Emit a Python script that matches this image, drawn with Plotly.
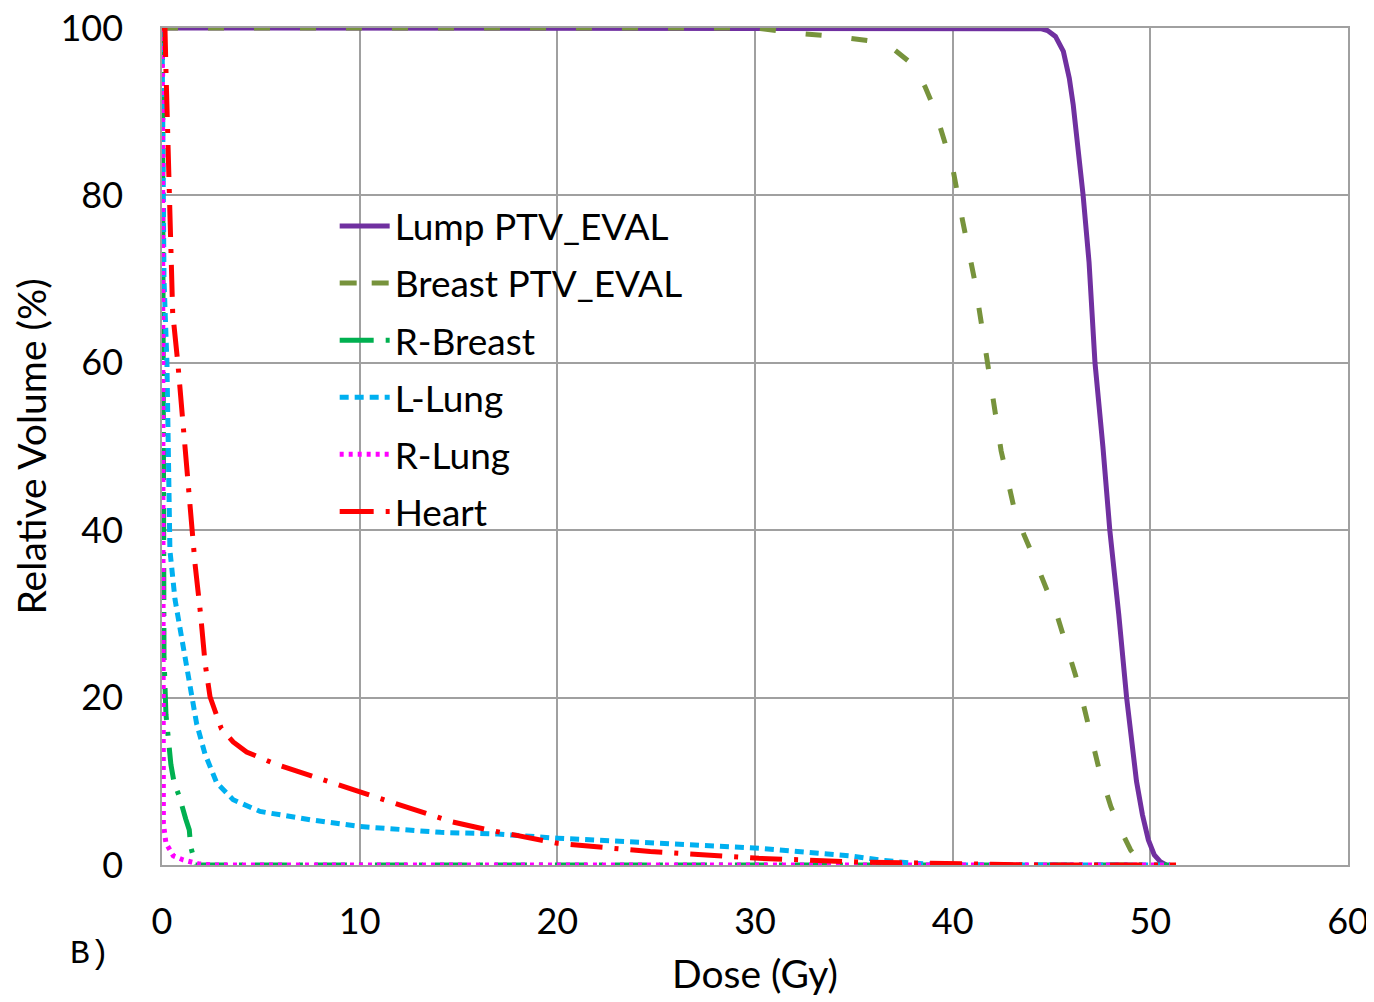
import plotly.graph_objects as go

# Dose-volume histogram, values
lump_dose = [0, 44.0, 44.5, 44.8, 45.2, 45.6, 45.9, 46.1, 46.4, 46.6, 46.9, 47.05, 47.2, 47.6,
             47.95, 48.4, 48.8, 49.3, 49.6, 49.9, 50.2, 50.5, 50.8]
lump_vol = [100, 100, 99.9, 99.7, 99.0, 97.2, 94.0, 90.8, 85.0, 80.0, 72.0, 67.0, 60.0, 50.0,
            40.0, 30.0, 20.0, 10.0, 6.0, 3.0, 1.2, 0.4, 0]

breast_dose = [0, 30.0, 32.5, 34.0, 36.0, 37.0, 38.0, 38.6, 39.1, 39.6, 40.0, 40.5, 41.1,
               41.6, 42.0, 42.45, 43.1, 43.6, 44.2, 45.3, 46.2, 46.6, 47.4, 48.0, 48.5,
               49.0, 49.5, 50.0]
breast_vol = [100, 100, 99.3, 99.0, 98.4, 97.5, 95.6, 93.0, 90.2, 86.5, 83.3, 77.0, 70.0,
              62.5, 56.5, 49.5, 42.7, 39.5, 36.2, 29.7, 22.8, 19.3, 11.5, 7.0, 4.2,
              1.8, 0.3, 0]

rbreast_dose = [0, 0.03, 0.05, 0.07, 0.1, 0.2, 0.35, 0.45, 0.6, 0.9, 1.2, 1.38, 1.45, 1.6,
                1.7, 51.0]
rbreast_vol = [100, 95, 70, 40, 25, 18, 14, 12, 10, 8, 5.5, 4.2, 2.2, 0.5, 0, 0]

llung_dose = [0, 0.05, 0.1, 0.25, 0.4, 0.66, 1.08, 1.42, 1.75, 2.17, 2.77, 3.6, 4.96, 7.5,
              10.0, 14.1, 17.0, 20.0, 25.0, 30.2, 34.8, 36.3, 38.0, 40.0, 51.0]
llung_vol = [100, 90, 70, 60, 37.6, 31.7, 25.7, 20.9, 16.9, 13.3, 9.8, 7.8, 6.4, 5.4,
             4.6, 3.9, 3.7, 3.2, 2.6, 2.0, 1.1, 0.6, 0.2, 0, 0]

rlung_dose = [0, 0.03, 0.05, 0.07, 0.2, 0.57, 1.08, 1.83, 2.5, 51.0]
rlung_vol = [100, 90, 40, 5, 2.6, 1.1, 0.6, 0.15, 0, 0]

heart_dose = [0, 0.15, 0.2, 0.3, 0.34, 0.45, 0.54, 0.8, 1.16, 1.5, 1.67, 1.95, 2.18, 2.43,
              3.0, 3.6, 4.28, 5.8, 8.16, 10.0, 12.3, 14.6, 16.5, 18.0, 20.0, 24.7, 30.2,
              35.3, 42.0, 44.0, 51.3]
heart_vol = [100, 100, 95, 85, 80, 72, 66, 60, 50, 40, 36, 30, 24.1, 20.1,
             16.3, 14.7, 13.5, 12.0, 10.2, 8.8, 7.0, 5.2, 4.2, 3.5, 2.6, 1.6, 0.8,
             0.35, 0.05, 0, 0]

# name, x, y, colour, dash in plot, dash in legend sample
series = [
    ("Lump PTV_EVAL", lump_dose, lump_vol, "#7030A0", "solid", "solid"),
    ("Breast PTV_EVAL", breast_dose, breast_vol, "#77933C", "16px,30px", "17px,15px"),
    ("R-Breast", rbreast_dose, rbreast_vol, "#00B050", "32px,12px,4px,12px", "34px,12px,4px,12px"),
    ("L-Lung", llung_dose, llung_vol, "#00B0F0", "9px,6px", "9px,6px"),
    ("R-Lung", rlung_dose, rlung_vol, "#FF00FF", "4px,5px", "4px,5px"),
    ("Heart", heart_dose, heart_vol, "#FF0000", "32px,12px,4px,12px", "34px,12px,4px,12px"),
]

fig = go.Figure()
for i, (name, xs, ys, color, dash, leg_dash) in enumerate(series):
    fig.add_trace(go.Scatter(
        x=xs, y=ys, mode="lines", name=name, showlegend=False,
        line=dict(color=color, dash=dash, width=5),
    ))
    # legend-only entry so the sample shows the short dash pattern
    fig.add_trace(go.Scatter(
        x=[None], y=[None], mode="lines", name=name,
        legendgroup=f"g{i}",
        line=dict(color=color, dash=leg_dash, width=5),
    ))

grid = "#A0A0A0"
fig.update_layout(
    width=1366, height=994,
    margin=dict(l=154, r=26, t=20, b=137),
    paper_bgcolor="white", plot_bgcolor="white",
    font=dict(family="Lato, sans-serif", size=36, color="black"),
    showlegend=True,
    legend=dict(
        x=0.1456, y=0.80, xanchor="left", yanchor="top",
        bgcolor="rgba(0,0,0,0)", tracegroupgap=6,
        font=dict(size=37), itemwidth=50,
    ),
    annotations=[dict(
        text="B)", xref="paper", yref="paper", x=-0.079, y=-0.1075,
        xanchor="left", yanchor="middle", showarrow=False,
        font=dict(family="Liberation Mono, monospace", size=33, color="black"),
    )],
)
fig.update_xaxes(
    range=[0, 60], dtick=10, showgrid=True, gridcolor=grid, gridwidth=1.5,
    showline=True, linecolor=grid, linewidth=1.5, mirror=True, zeroline=False,
    ticks="", ticklabelstandoff=24, automargin=False, ticklabeloverflow="allow",
    title=dict(text="Dose (Gy)", standoff=20, font=dict(size=39)),
)
fig.update_yaxes(
    range=[0, 100], dtick=20, showgrid=True, gridcolor=grid, gridwidth=1.5,
    showline=True, linecolor=grid, linewidth=1.5, mirror=True, zeroline=False,
    ticks="", ticklabelstandoff=30, automargin=False, ticklabeloverflow="allow",
    title=dict(text="Relative Volume (%)", standoff=39, font=dict(size=39)),
)

fig.write_html("out.html")
